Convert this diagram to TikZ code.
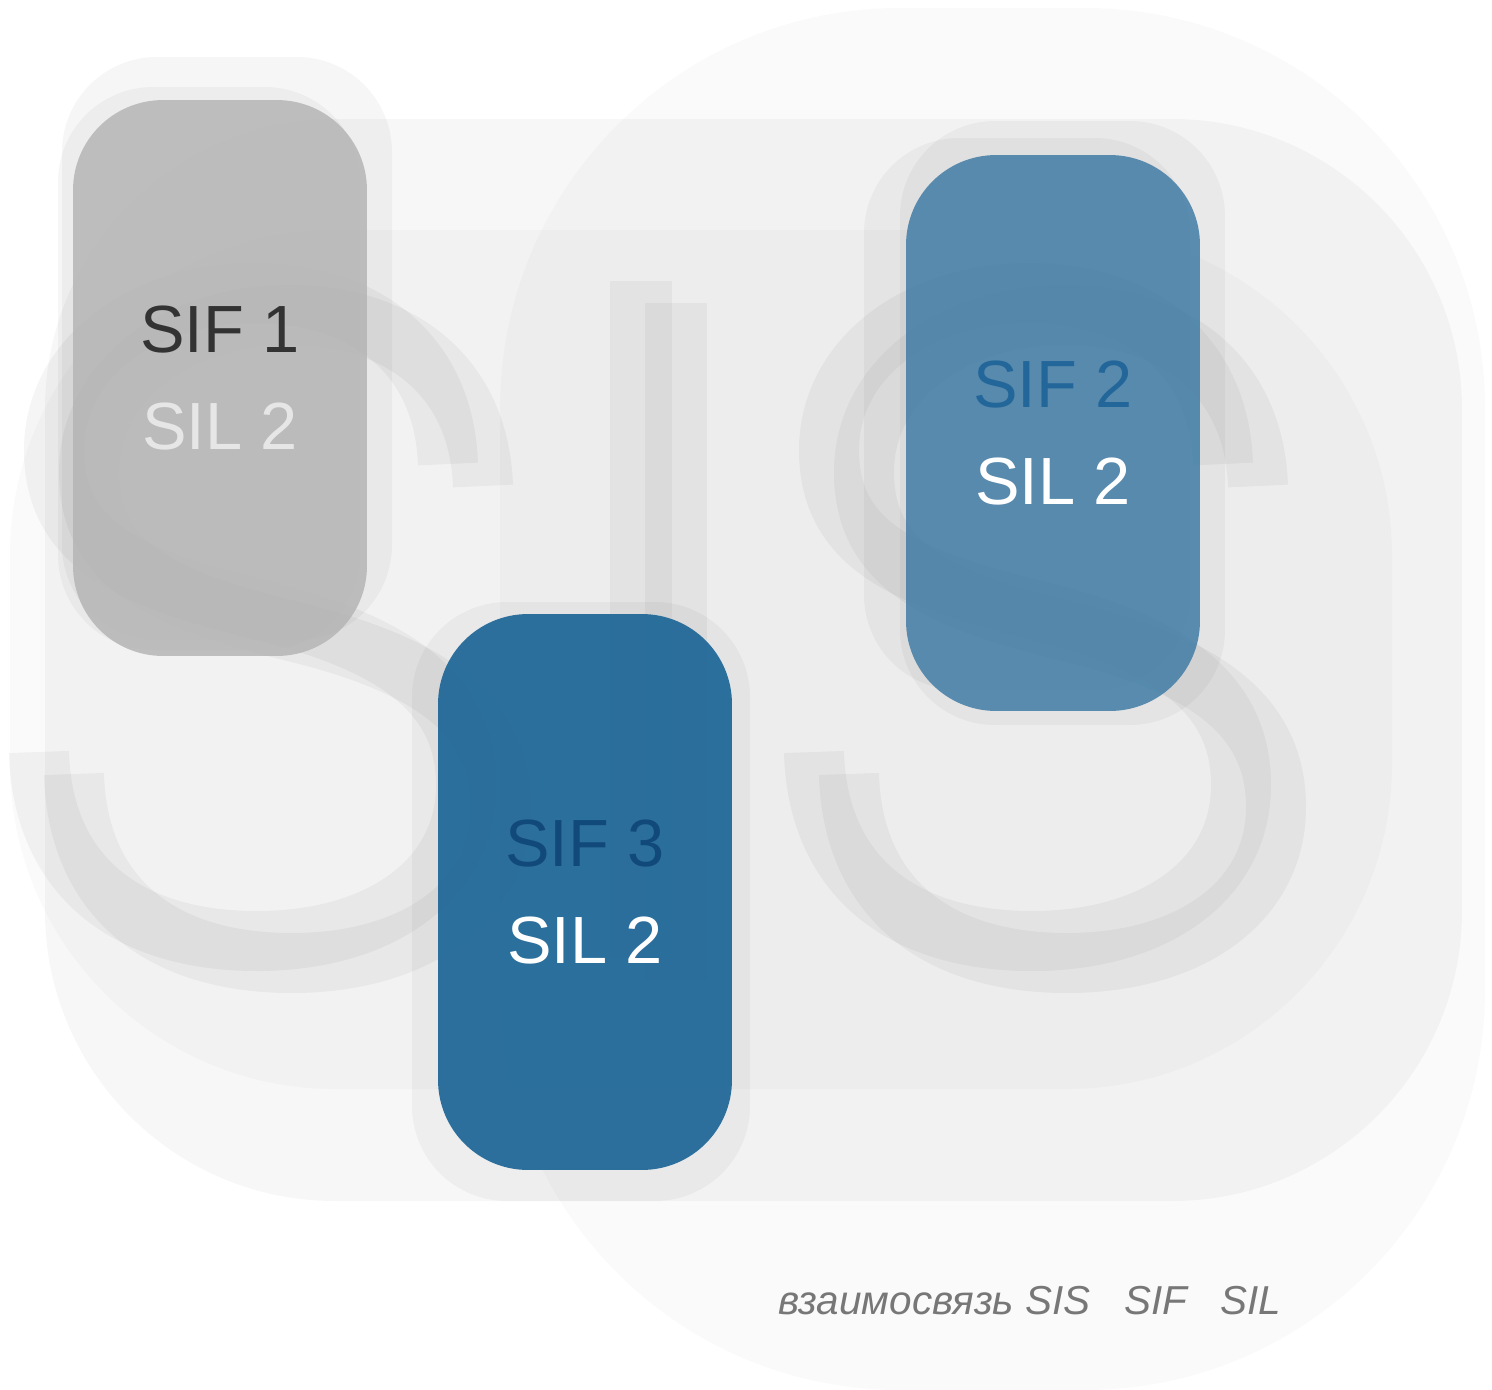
\documentclass[tikz,border=0pt]{standalone}
\usepackage{fontspec}
\setmainfont{Liberation Sans}
\definecolor{boxgray}{RGB}{181,181,181}
\definecolor{boxlight}{RGB}{64,124,165}
\definecolor{boxdeep}{RGB}{34,105,153}
\definecolor{sifdark}{HTML}{333333}
\definecolor{silpale}{HTML}{E6E6E6}
\definecolor{sifmid}{HTML}{23669A}
\definecolor{sifnavy}{HTML}{114A7A}
\definecolor{captgray}{HTML}{777777}

\begin{document}
\begin{tikzpicture}[x=0.02cm,y=-0.02cm,line cap=butt,
  layer/.style={fill=black,fill opacity=#1},
  glow/.style={fill=black,fill opacity=0.035,rounded corners=1.9cm},
  letter/.style={draw=black,draw opacity=0.04,line width=1.2cm},
  sifbox/.style={minimum width=5.88cm,minimum height=11.12cm,inner sep=0pt,
    rounded corners=1.8cm,align=center,text opacity=1,
    font=\fontsize{38}{55}\selectfont}]
\useasboundingbox (0,0) rectangle (1492,1390);
\fill[white] (0,0) rectangle (1492,1390);
% faded backdrop
\fill[layer=0.02,rounded corners=8cm] (500,8) rectangle (1485,1390);
\fill[layer=0.03,rounded corners=5.8cm] (45,119) rectangle (1462,1201);
\fill[layer=0.02,rounded corners=6.5cm] (10,230) rectangle (1392,1089);
% big SIS letters, drawn twice
\foreach \dx/\dy in {0/0,35/22}{
  \foreach \sx in {0,775}
    \draw[letter,shift={(\sx+\dx,\dy)}] (448,464)
      .. controls (444,350) and (360,293) .. (255,293)
      .. controls (140,293) and (54,360) .. (54,450)
      .. controls (54,545) and (130,578) .. (260,610)
      .. controls (390,642) and (466,690) .. (466,785)
      .. controls (466,880) and (380,941) .. (257,941)
      .. controls (120,941) and (42,870) .. (39,752);
  \fill[layer=0.04,shift={(\dx,\dy)}] (610,281) rectangle (672,958);
}
% halos
\fill[glow] (58,87) rectangle (360,650);
\fill[glow] (62,57) rectangle (392,640);
\fill[glow] (864,138) rectangle (1190,690);
\fill[glow] (900,121) rectangle (1225,725);
\fill[glow] (412,602) rectangle (750,1201);
% boxes
\node[sifbox,fill=boxgray,fill opacity=0.85] (sif1) at (220,378)
  {\textcolor{sifdark}{SIF 1}\\\textcolor{silpale}{SIL 2}};
\node[sifbox,fill=boxlight,fill opacity=0.85] (sif2) at (1053,433)
  {\textcolor{sifmid}{SIF 2}\\\textcolor{white}{SIL 2}};
\node[sifbox,fill=boxdeep,fill opacity=0.95] (sif3) at (585,892)
  {\textcolor{sifnavy}{SIF 3}\\\textcolor{white}{SIL 2}};
\node[anchor=base west,inner sep=0pt,text=captgray,font=\fontsize{23}{28}\selectfont\itshape]
  (caption) at (778,1314) {взаимосвязь SIS\ \ \ SIF\ \ \ SIL};
\end{tikzpicture}
\end{document}
